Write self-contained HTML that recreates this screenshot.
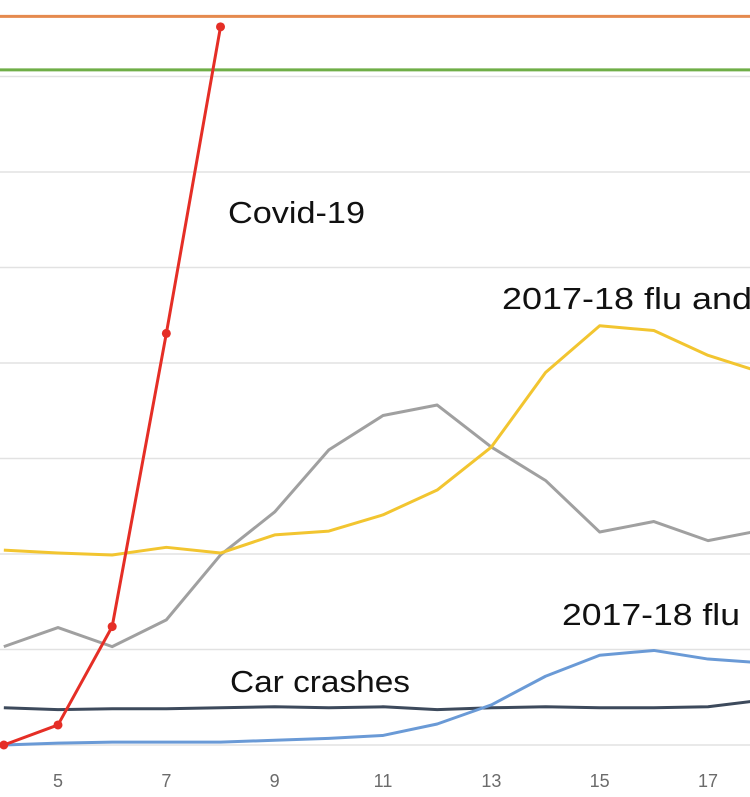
<!DOCTYPE html>
<html><head><meta charset="utf-8"><style>
html,body{margin:0;padding:0;background:#fff;overflow:hidden}
svg{display:block}
text{font-family:"Liberation Sans",sans-serif}
</style></head><body>
<svg id="chart" width="750" height="797" viewBox="0 0 750 797"></svg>
<script>
const weeks=[4,5,6,7,8,9,10,11,12,13,14,15,16,17,18];
const tickLabels=[5,7,9,11,13,15,17];
const gridValues=[0,1,2,3,4,5,6,7];
const covid=[0,0.21,1.24,4.31,7.52];
const gray=[1.03,1.23,1.03,1.31,1.99,2.44,3.09,3.45,3.56,3.12,2.77,2.23,2.34,2.14,2.25];
const yellow=[2.04,2.01,1.99,2.07,2.01,2.20,2.24,2.41,2.67,3.12,3.90,4.39,4.34,4.08,3.90];
const flu=[0,0.02,0.03,0.03,0.03,0.05,0.07,0.10,0.22,0.42,0.72,0.94,0.99,0.90,0.86];
const cars=[0.39,0.37,0.38,0.38,0.39,0.40,0.39,0.40,0.37,0.39,0.40,0.39,0.39,0.40,0.47];
const orangeRef=7.63;
const greenRef=7.07;

const svg=document.getElementById('chart');
const NS='http://www.w3.org/2000/svg';
const X=w=>58+(w-5)*54.17;
const Y=v=>745-v*95.5;
function mk(tag,attrs){const e=document.createElementNS(NS,tag);for(const k in attrs)e.setAttribute(k,attrs[k]);svg.appendChild(e);return e;}

gridValues.forEach(v=>{
  const l=mk('line',{x1:0,x2:750,y1:Y(v),y2:Y(v),stroke:'#e2e2e2','stroke-width':1.5});
  
  
});
tickLabels.forEach(t=>{
  const e=mk('text',{x:X(t),y:787,'text-anchor':'middle','font-size':18,fill:'#6b6b6b'});
  e.textContent=t;
  
  
});
[[orangeRef,'#e58a4e','orange-reference-line'],[greenRef,'#6fae47','green-reference-line']].forEach(r=>{
  const l=mk('line',{x1:0,x2:750,y1:Y(r[0]),y2:Y(r[0]),stroke:r[1],'stroke-width':3});
  
  
});
function series(vals,color,name,w){
  const pts=vals.map((v,i)=>X(weeks[i])+','+Y(v)).join(' ');
  const p=mk('polyline',{points:pts,fill:'none',stroke:color,'stroke-width':w||3,'stroke-linejoin':'round'});
  
  
}
series(gray,'#a0a0a0','gray-series-line');
series(yellow,'#f2c530','flu-and-pneumonia-line');
series(cars,'#3d4a5c','car-crashes-line');
series(flu,'#6a9ad6','flu-line');
series(covid,'#e52e26','covid-19-line');
covid.forEach((v,i)=>{
  const c=mk('circle',{cx:X(weeks[i]),cy:Y(v),r:4.5,fill:'#e52e26'});
  
  
});
[['Covid-19',228,223,'covid-19-label',137],['2017-18 flu and',502,309,'flu-and-pneumonia-label',250],['2017-18 flu',562,625,'flu-label',178],['Car crashes',230,692,'car-crashes-label',180]].forEach(a=>{
  const t=mk('text',{x:a[1],y:a[2],'font-size':31,fill:'#111',textLength:a[4],lengthAdjust:'spacingAndGlyphs'});
  t.textContent=a[0];
  
  
});
</script>
</body></html>
